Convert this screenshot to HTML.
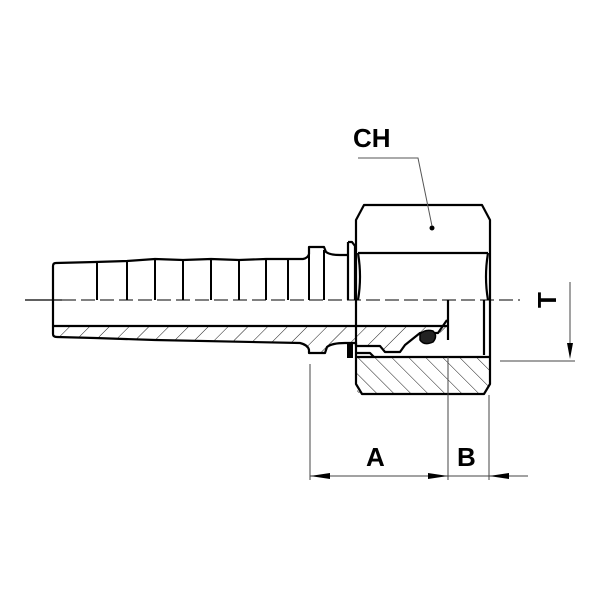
<!DOCTYPE html>
<html><head><style>body{margin:0;background:#fff}svg{display:block}</style></head><body>
<svg width="600" height="600" viewBox="0 0 600 600" xmlns="http://www.w3.org/2000/svg">
<defs>
<pattern id="h" patternUnits="userSpaceOnUse" width="14" height="14" patternTransform="rotate(45)"><line x1="0" y1="0" x2="0" y2="14" stroke="#000" stroke-width="0.9"/></pattern>
<pattern id="h2" patternUnits="userSpaceOnUse" width="12" height="12" patternTransform="rotate(-45)"><line x1="0" y1="0" x2="0" y2="12" stroke="#000" stroke-width="0.9"/></pattern>
</defs>
<g fill="none" stroke="#000" stroke-width="2.2" stroke-linejoin="round">
<!-- hose tail top -->
<path d="M56,263 L95,262 L127,261 L155,259 L183,260 L211,259 L239,260 L266,259 L290,259 L303,259 Q308,258 309,254 L309,247 L324,247 L326,252 Q330,255 340,255 L348,255"/>
<path d="M53,266 Q53,263 56,263"/>
<line x1="53" y1="266" x2="53" y2="334"/>
<path d="M53,334 Q53,337 57,337 L95,338 L155,340 L300,343 Q308,345 309,350 L309,353 L325,353 L327,347 Q332,343 345,343 L356,343 L356,346 L380,346 L385,352 L400,352 L405,345 L420,333 L438,333 L447,320"/>
<line x1="53" y1="326" x2="447" y2="326"/>
<!-- ribs -->
<g stroke-width="2">
<line x1="97" y1="262" x2="97" y2="300"/><line x1="127" y1="261" x2="127" y2="300"/><line x1="155" y1="259" x2="155" y2="300"/><line x1="183" y1="260" x2="183" y2="300"/><line x1="211" y1="259" x2="211" y2="300"/><line x1="239" y1="260" x2="239" y2="300"/><line x1="266" y1="259" x2="266" y2="300"/><line x1="288" y1="259" x2="288" y2="300"/>
<line x1="309" y1="254" x2="309" y2="300"/><line x1="324" y1="250" x2="324" y2="300"/>
</g>
<!-- washer -->
<path d="M348,242 L352,242 L355,246 L355,300 M348,242 L348,300"/>
<!-- nut -->
<path d="M364,205 L482,205 L490,220 L490,384 L484,394 L362,394 L356,384 L356,220 Z"/>
<line x1="358" y1="253" x2="488" y2="253"/>
<path d="M358,253 Q362,277 358,300 M488,253 Q484,277 488,300"/>
<line x1="448" y1="300" x2="448" y2="340"/>
<line x1="484" y1="300" x2="484" y2="355"/>
<line x1="356" y1="357" x2="490" y2="357"/>
<path d="M356,353 L370,353 L374,357"/>
</g>
<rect x="357" y="358" width="132" height="35" fill="url(#h2)"/>
<path d="M56,327 L447,327 L447,332 L420,334 L405,345 L400,351 L385,351 L380,346 L358,345 L345,344 Q332,344 327,348 L325,352 L310,352 L308,346 Q304,343 296,342 L155,339 L57,336 Z" fill="url(#h)"/>
<rect x="347" y="344" width="6" height="14" fill="#000"/>
<path d="M420,334 Q425,329 433,331 Q438,336 433,342 Q424,346 420,340 Z" fill="#222" stroke="#000" stroke-width="1.5"/>
<circle cx="432" cy="228" r="2.5" fill="#000"/>
<!-- centerline -->
<line x1="25" y1="300" x2="62" y2="300" stroke="#000" stroke-width="1.2"/>
<line x1="62" y1="300" x2="520" y2="300" stroke="#000" stroke-width="1" stroke-dasharray="14,5"/>
<!-- leader -->
<polyline points="358,158 418,158 432,226" fill="none" stroke="#555" stroke-width="1"/>
<!-- dimensions -->
<g stroke="#444" stroke-width="1">
<line x1="310" y1="364" x2="310" y2="480"/>
<line x1="448" y1="357" x2="448" y2="480"/>
<line x1="489" y1="395" x2="489" y2="480"/>
<line x1="310" y1="476" x2="448" y2="476"/>
<line x1="448" y1="476" x2="489" y2="476"/>
<line x1="489" y1="476" x2="528" y2="476"/>
<line x1="500" y1="361" x2="575" y2="361"/>
<line x1="570" y1="282" x2="570" y2="355"/>
</g>
<g fill="#000">
<polygon points="310,476 330,473 330,479"/>
<polygon points="448,476 428,473 428,479"/>
<polygon points="489,476 509,473 509,479"/>
<polygon points="570,359 567,343 573,343"/>
</g>
<g font-family="Liberation Sans, sans-serif" font-weight="bold" font-size="26" fill="#000">
<text x="353" y="147">CH</text>
<text x="366" y="466">A</text>
<text x="457" y="466">B</text>
<text transform="translate(556,300) rotate(-90)" text-anchor="middle">T</text>
</g>
</svg>
</body></html>
